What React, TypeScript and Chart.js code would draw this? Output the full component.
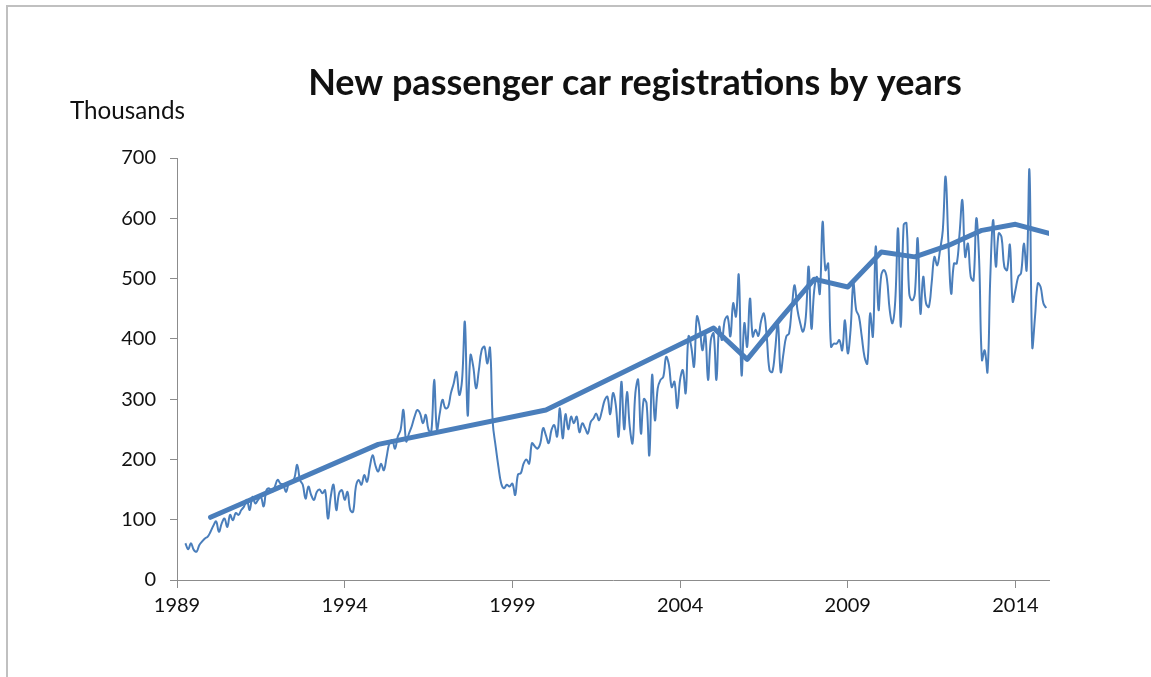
import React, { useEffect, useRef } from 'react';
import { Chart, registerables } from 'chart.js';

Chart.register(...registerables);

// ---------- data ----------
const firstYear = 1989;
const firstMonthOffset = 3; // first monthly value = April 1989

// Monthly new passenger car registrations, thousands (Apr 1989 .. Dec 2014)
const monthlyRegistrations: number[] = [
  /* 1989 */ 61, 51, 61, 50, 47, 58, 64, 69, 72,
  /* 1990 */ 80, 90, 97, 80, 94, 102, 88, 108, 99, 111, 108, 116,
  /* 1991 */ 122, 133, 116, 138, 127, 133, 138, 122, 149, 152, 146, 155,
  /* 1992 */ 166, 160, 158, 146, 160, 163, 169, 191, 166, 158, 135, 155,
  /* 1993 */ 141, 133, 146, 150, 144, 149, 102, 138, 158, 116, 144, 149,
  /* 1994 */ 133, 146, 116, 113, 155, 166, 158, 174, 163, 188, 207, 190,
  /* 1995 */ 180, 193, 182, 204, 227, 232, 218, 238, 249, 282, 230, 243,
  /* 1996 */ 255, 271, 282, 276, 260, 274, 249, 246, 332, 249, 276, 299,
  /* 1997 */ 285, 287, 310, 326, 345, 307, 332, 428, 273, 373, 354, 318,
  /* 1998 */ 348, 381, 387, 359, 385, 260, 222, 188, 160, 152, 158, 155,
  /* 1999 */ 160, 141, 175, 177, 193, 200, 193, 227, 222, 218, 227, 252,
  /* 2000 */ 240, 227, 249, 257, 238, 285, 235, 275, 250, 271, 260, 271,
  /* 2001 */ 245, 260, 252, 243, 262, 268, 276, 265, 280, 298, 304, 275,
  /* 2002 */ 310, 290, 238, 329, 250, 312, 254, 227, 310, 332, 243, 300,
  /* 2003 */ 293, 207, 340, 265, 318, 332, 337, 370, 357, 320, 329, 285,
  /* 2004 */ 332, 348, 310, 404, 387, 354, 437, 420, 381, 409, 332, 398,
  /* 2005 */ 409, 332, 420, 398, 431, 437, 404, 459, 437, 506, 340, 426,
  /* 2006 */ 387, 467, 404, 415, 405, 430, 442, 404, 348, 345, 381, 426,
  /* 2007 */ 345, 376, 404, 409, 453, 489, 448, 426, 412, 437, 520, 417,
  /* 2008 */ 481, 503, 475, 594, 514, 525, 387, 392, 392, 398, 381, 431,
  /* 2009 */ 376, 415, 492, 448, 437, 404, 370, 359, 442, 404, 553, 448,
  /* 2010 */ 506, 514, 500, 448, 426, 464, 583, 420, 589, 592, 475, 464,
  /* 2011 */ 475, 567, 442, 503, 459, 453, 492, 536, 522, 547, 580, 669,
  /* 2012 */ 560, 475, 525, 525, 575, 630, 536, 558, 503, 497, 600, 531,
  /* 2013 */ 365, 381, 345, 503, 597, 520, 575, 569, 520, 514, 556, 462,
  /* 2014 */ 481, 503, 509, 558, 514, 680, 387, 437, 492, 486, 459, 451,
];

// Yearly level (thick line)
const annualYears: number[] = [1990, 1995, 2000, 2005, 2006, 2007, 2008, 2009, 2010, 2011, 2012, 2013, 2014, 2015];
const annualValues: number[] = [104, 225, 282, 418, 366, 434, 499, 486, 544, 536, 555, 580, 590, 575];

const xTickYears: number[] = [1989, 1994, 1999, 2004, 2009, 2014];
const yTickValues: number[] = [0, 100, 200, 300, 400, 500, 600, 700];
const xMin = 1989;
const xMax = 2015;

const titleText = 'New passenger car registrations by years';
const unitText = 'Thousands';

// ---------- styles ----------
const lineBlue = '#4a7ebb';
const axisGray = '#8c8c8c';
const textColor = '#111111';
const fontFamily = 'Lato, "Open Sans", sans-serif';

function drawFitted(
  ctx: CanvasRenderingContext2D,
  text: string,
  weight: string,
  targetWidth: number,
  x: number,
  baseline: number,
  align: CanvasTextAlign
) {
  ctx.font = `${weight} 100px ${fontFamily}`;
  const w = ctx.measureText(text).width;
  const size = (100 * targetWidth) / w;
  ctx.font = `${weight} ${size}px ${fontFamily}`;
  ctx.textAlign = align;
  ctx.textBaseline = 'alphabetic';
  ctx.fillStyle = textColor;
  ctx.fillText(text, x, baseline);
}

const decorPlugin = {
  id: 'decor',
  beforeDraw(chart: any) {
    const { ctx, width, height } = chart;
    ctx.save();
    ctx.fillStyle = '#ffffff';
    ctx.fillRect(0, 0, width, height);
    ctx.strokeStyle = '#c0c0c0';
    ctx.lineWidth = 2;
    ctx.beginPath();
    ctx.moveTo(7, height);
    ctx.lineTo(7, 6);
    ctx.lineTo(width, 6);
    ctx.stroke();
    ctx.restore();
  },
  afterDraw(chart: any) {
    const { ctx } = chart;
    ctx.save();
    drawFitted(ctx, titleText, 'bold', 654, 635, 95, 'center');
    drawFitted(ctx, unitText, 'normal', 115, 70, 119, 'left');
    ctx.restore();
  },
};

export default function App() {
  const canvasRef = useRef<HTMLCanvasElement>(null);

  useEffect(() => {
    const canvas = canvasRef.current;
    if (!canvas) return;

    const monthlyPoints = monthlyRegistrations.map((v, i) => ({
      x: firstYear + (firstMonthOffset + i) / 12,
      y: v,
    }));
    const annualPoints = annualYears.map((yr, i) => ({ x: yr, y: annualValues[i] }));

    const chart = new Chart(canvas, {
      type: 'line',
      data: {
        datasets: [
          {
            label: 'Monthly',
            data: monthlyPoints,
            borderColor: lineBlue,
            backgroundColor: lineBlue,
            borderWidth: 2,
            pointRadius: 0,
            tension: 0.4,
            fill: false,
            order: 2,
          },
          {
            label: 'Yearly',
            data: annualPoints,
            borderColor: lineBlue,
            backgroundColor: lineBlue,
            borderWidth: 5,
            pointRadius: 0,
            tension: 0,
            fill: false,
            borderCapStyle: 'round',
            borderJoinStyle: 'round',
            order: 1,
          },
        ],
      },
      options: {
        responsive: false,
        animation: false,
        devicePixelRatio: 1,
        parsing: true,
        layout: { padding: { left: 0, right: 102, top: 158, bottom: 0 } },
        plugins: {
          legend: { display: false },
          tooltip: { enabled: false },
          title: { display: false },
        },
        scales: {
          x: {
            type: 'linear',
            min: xMin,
            max: xMax,
            afterBuildTicks: (s: any) => {
              s.ticks = xTickYears.map((v) => ({ value: v }));
            },
            afterFit: (s: any) => {
              s.height = 97;
            },
            grid: {
              drawOnChartArea: false,
              drawTicks: true,
              tickLength: 8,
              color: axisGray,
            },
            border: { display: true, color: axisGray, width: 1 },
            ticks: {
              autoSkip: false,
              maxRotation: 0,
              padding: 6,
              color: textColor,
              font: { family: fontFamily, size: 20 },
              callback: (v: any) => String(v),
            },
          },
          y: {
            type: 'linear',
            min: 0,
            max: 700,
            afterBuildTicks: (s: any) => {
              s.ticks = yTickValues.map((v) => ({ value: v }));
            },
            afterFit: (s: any) => {
              s.width = 177;
            },
            grid: {
              drawOnChartArea: false,
              drawTicks: true,
              tickLength: 7,
              color: axisGray,
            },
            border: { display: true, color: axisGray, width: 1 },
            ticks: {
              padding: 14,
              color: textColor,
              font: { family: fontFamily, size: 20 },
              callback: (v: any) => String(v),
            },
          },
        },
      },
      plugins: [decorPlugin],
    } as any);

    return () => chart.destroy();
  }, []);

  return (
    <div
      style={{
        position: 'fixed',
        left: 0,
        top: 0,
        width: 1151,
        height: 677,
        overflow: 'hidden',
        background: '#fff',
      }}
    >
      <canvas
        ref={canvasRef}
        width={1151}
        height={677}
        style={{ display: 'block', width: 1151, height: 677 }}
      />
    </div>
  );
}
